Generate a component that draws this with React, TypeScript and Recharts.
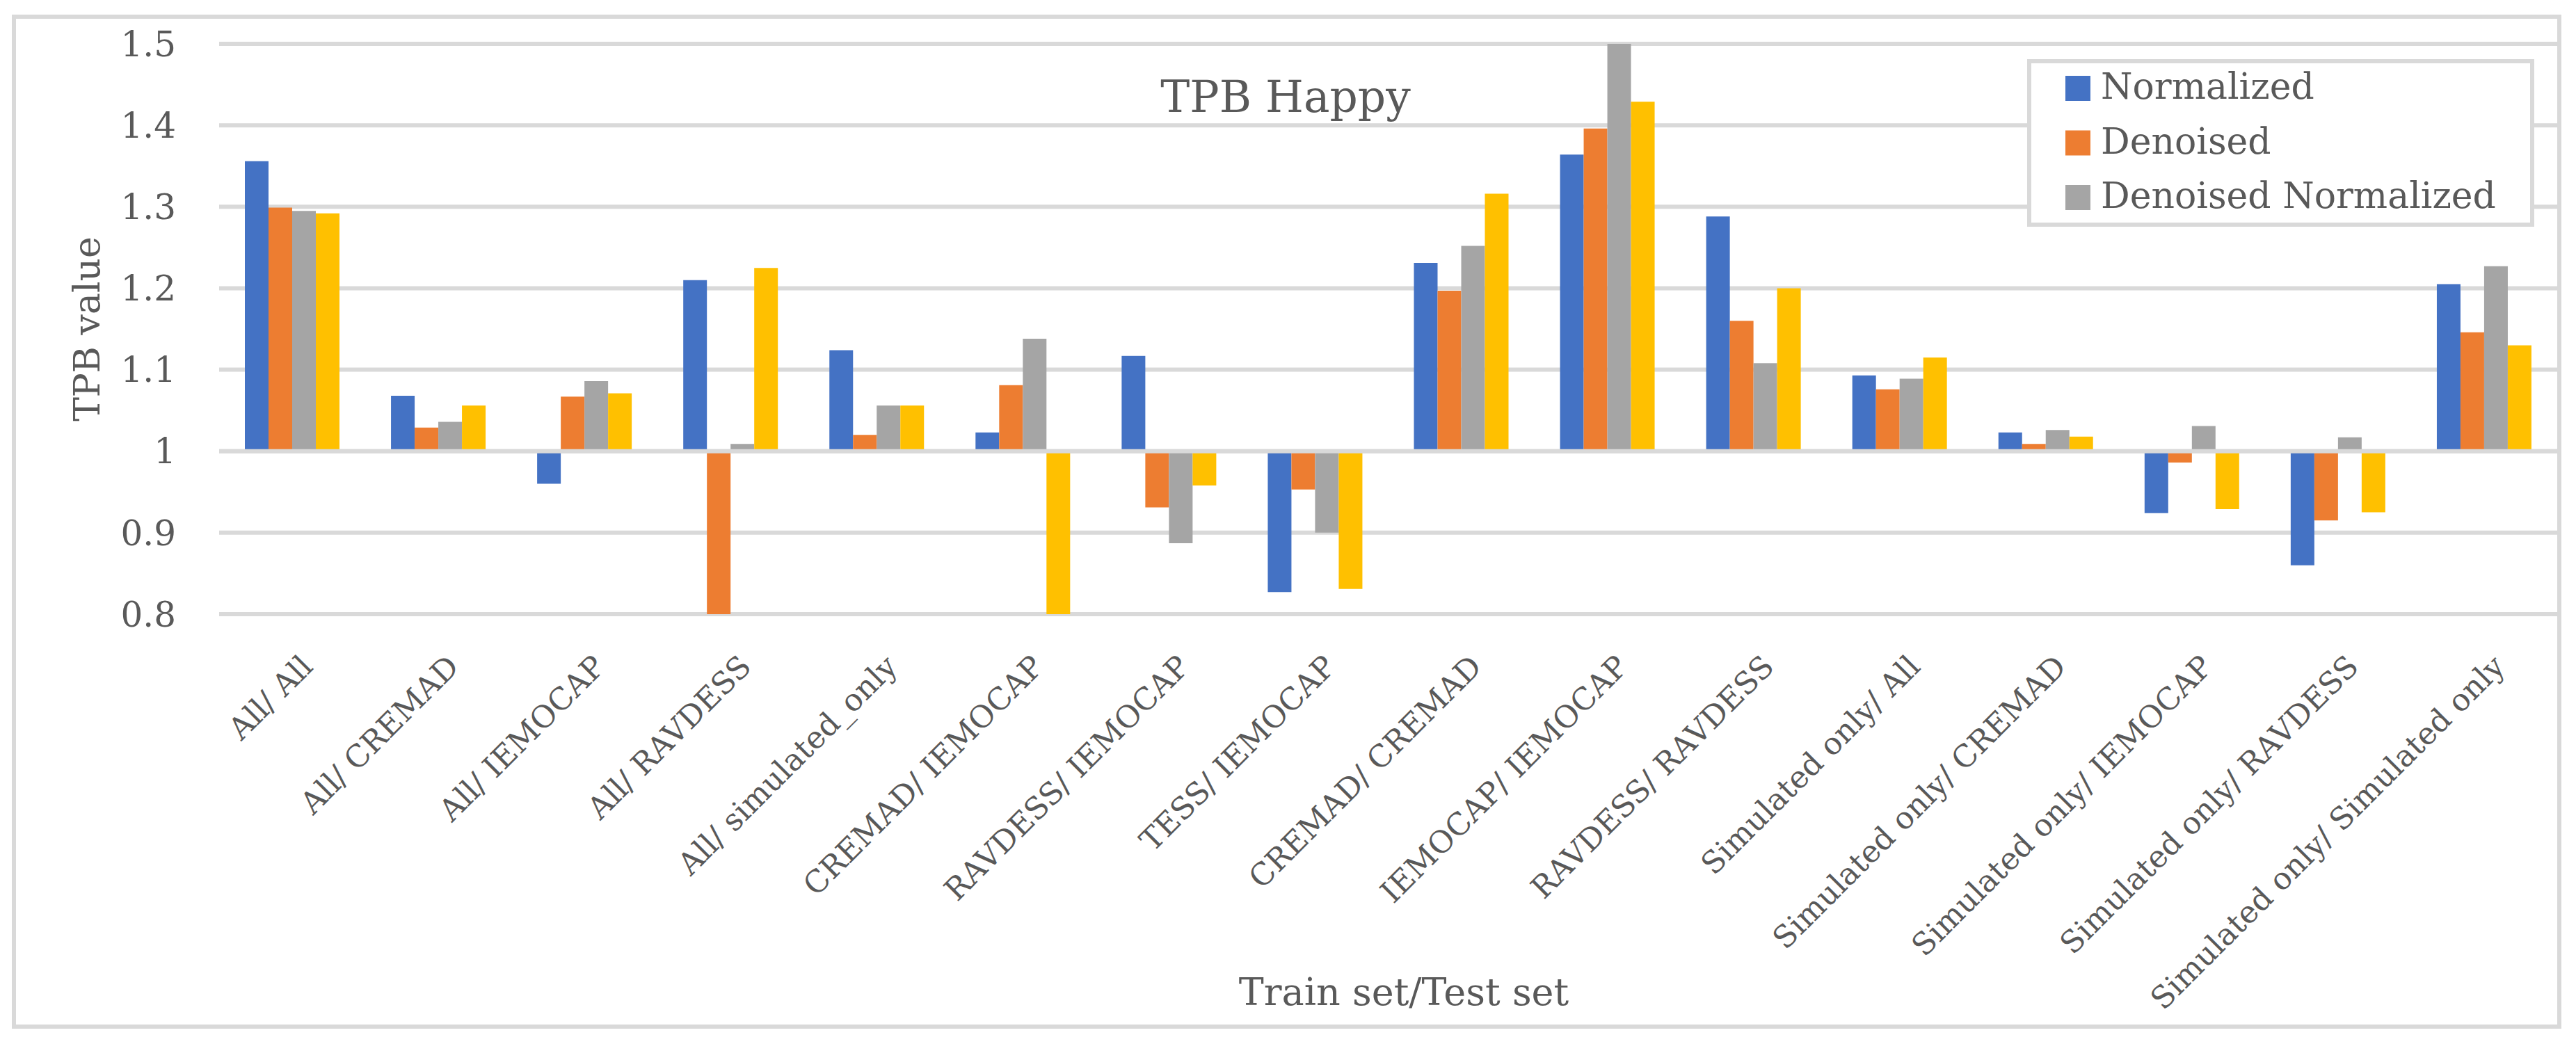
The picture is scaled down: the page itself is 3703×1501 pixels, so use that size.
import { Bar, BarChart, CartesianGrid, Legend, ReferenceLine, XAxis, YAxis } from "recharts";

const CATEGORIES = [
  "All/ All",
  "All/ CREMAD",
  "All/ IEMOCAP",
  "All/ RAVDESS",
  "All/ simulated_only",
  "CREMAD/ IEMOCAP",
  "RAVDESS/ IEMOCAP",
  "TESS/ IEMOCAP",
  "CREMAD/ CREMAD",
  "IEMOCAP/ IEMOCAP",
  "RAVDESS/ RAVDESS",
  "Simulated only/ All",
  "Simulated only/ CREMAD",
  "Simulated only/ IEMOCAP",
  "Simulated only/ RAVDESS",
  "Simulated only/ Simulated only",
];

const NORMALIZED = [1.356, 1.068, 0.96, 1.21, 1.124, 1.023, 1.117, 0.827, 1.231, 1.364, 1.288, 1.093, 1.023, 0.924, 0.86, 1.205];
const DENOISED = [1.299, 1.029, 1.067, 0.8, 1.02, 1.081, 0.931, 0.953, 1.197, 1.396, 1.16, 1.076, 1.009, 0.986, 0.915, 1.146];
const DENOISED_NORMALIZED = [1.295, 1.036, 1.086, 1.009, 1.056, 1.138, 0.887, 0.9, 1.252, 1.5, 1.108, 1.089, 1.026, 1.031, 1.017, 1.227];
const SERIES_4 = [1.292, 1.056, 1.071, 1.225, 1.056, 0.8, 0.958, 0.831, 1.316, 1.429, 1.2, 1.115, 1.018, 0.929, 0.925, 1.13];

const Y_TICKS = [0.8, 0.9, 1, 1.1, 1.2, 1.3, 1.4, 1.5];
const BASE = 1; // horizontal axis crosses at 1

const SERIES = [
  { key: "normalized", name: "Normalized", color: "#4472C4", legend: true },
  { key: "denoised", name: "Denoised", color: "#ED7D31", legend: true },
  { key: "denoisedNormalized", name: "Denoised Normalized", color: "#A5A5A5", legend: true },
  { key: "series4", name: "Series 4", color: "#FFC000", legend: false },
];

const data = CATEGORIES.map((category, i) => ({
  category,
  normalized: NORMALIZED[i],
  denoised: DENOISED[i],
  denoisedNormalized: DENOISED_NORMALIZED[i],
  series4: SERIES_4[i],
}));

const W = 3703;
const H = 1501;
const FONT = "'DejaVu Serif', serif";
const TEXT = "#595959";
const GRID = "#d9d9d9";

function CategoryTick({ x, y, payload }: any) {
  return (
    <text
      transform={`translate(${x + 32}, ${y + 78}) rotate(-45)`}
      textAnchor="end"
      fontFamily={FONT}
      fontSize={44}
      fill={TEXT}
    >
      {payload.value}
    </text>
  );
}

// keep the legend in series order, not alphabetical
const seriesIndex = (name: string) => SERIES.findIndex((s) => s.name === name);

function LegendBox({ payload }: any) {
  const items = [...(payload ?? [])].sort((a, b) => seriesIndex(a.value) - seriesIndex(b.value));
  return (
    <svg width={729} height={241} style={{ display: "block" }}>
      <rect x={3} y={3} width={723} height={235} fill="#fff" stroke={GRID} strokeWidth={6} />
      {items.map((item: any, i: number) => (
        <g key={item.value}>
          <rect x={55} y={24 + i * 78.5} width={36} height={36} fill={item.color} />
          <text x={106} y={57 + i * 78.5} fontFamily={FONT} fontSize={52} fill={TEXT}>
            {item.value}
          </text>
        </g>
      ))}
    </svg>
  );
}

export default function App() {
  return (
    <div style={{ position: "absolute", left: 0, top: 0, width: W, height: H, background: "#fff" }}>
      <BarChart
        width={W}
        height={H}
        data={data}
        margin={{ top: 63, right: 27, bottom: 0, left: 0 }}
        barGap={0}
        barSize={34}
      >
        <CartesianGrid vertical={false} stroke={GRID} strokeWidth={6} />
        <XAxis
          dataKey="category"
          interval={0}
          height={618}
          axisLine={false}
          tickLine={false}
          tickSize={0}
          tickMargin={0}
          tick={(p: any) => <CategoryTick {...p} />}
        />
        <YAxis
          type="number"
          domain={[0.8, 1.5]}
          ticks={Y_TICKS}
          allowDataOverflow
          width={315}
          axisLine={false}
          tickLine={false}
          tickSize={0}
          tickMargin={62}
          tickFormatter={(v: number) => String(+v.toFixed(1))}
          tick={{ fontFamily: FONT, fontSize: 50, fill: TEXT }}
        />
        {SERIES.map((s) => (
          <Bar
            key={s.key}
            dataKey={(d: any) => [BASE, d[s.key]]}
            name={s.name}
            fill={s.color}
            legendType={s.legend ? "rect" : "none"}
            isAnimationActive={false}
          />
        ))}
        <ReferenceLine y={BASE} stroke={GRID} strokeWidth={6} />
        <Legend
          layout="vertical"
          align="center"
          verticalAlign="middle"
          wrapperStyle={{ left: 2914, top: 85, width: 729, height: 241 }}
          content={(props: any) => <LegendBox {...props} />}
        />
      </BarChart>
      <svg
        width={W}
        height={H}
        style={{ position: "absolute", left: 0, top: 0, pointerEvents: "none" }}
      >
        <rect x={20} y={24} width={3659} height={1452} fill="none" stroke={GRID} strokeWidth={6} />
        <text x={1848} y={161} textAnchor="middle" fontFamily={FONT} fontSize={63} fill={TEXT}>
          TPB Happy
        </text>
        <text
          transform="translate(143, 473) rotate(-90)"
          textAnchor="middle"
          fontFamily={FONT}
          fontSize={52}
          fill={TEXT}
        >
          TPB value
        </text>
        <text x={2018} y={1445} textAnchor="middle" fontFamily={FONT} fontSize={54} fill={TEXT}>
          Train set/Test set
        </text>
      </svg>
    </div>
  );
}
